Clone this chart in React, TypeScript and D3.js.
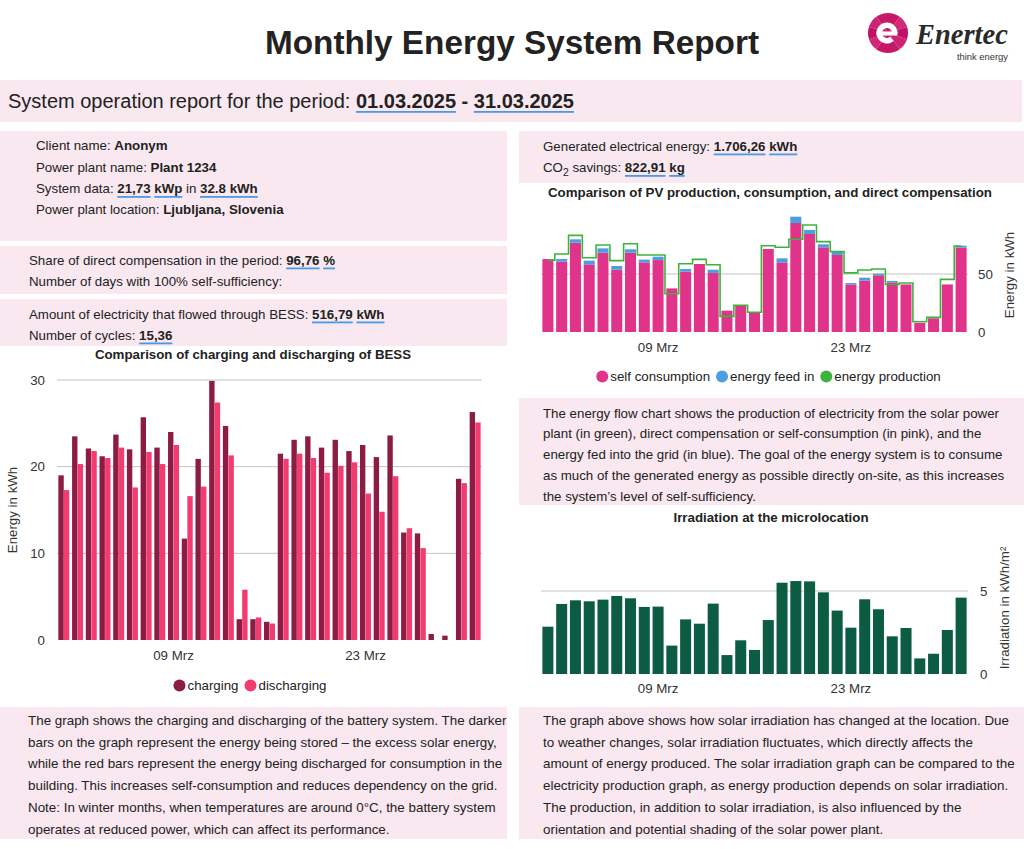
import React from 'react';
import * as d3 from 'd3';

const FONT = "'Liberation Sans', Arial, Helvetica, sans-serif";

// ---------- DATA ----------
const days = ["01","02","03","04","05","06","07","08","09","10","11","12","13","14","15","16","17","18","19","20","21","22","23","24","25","26","27","28","29","30","31"];
const xTickIdx = [8, 22];
const xTickLabels = ["09 Mrz", "23 Mrz"];

const selfConsumption = [62.9,60.6,77,58.3,68.4,53.7,68.4,60,62,37.6,52,58.6,50.9,18.4,22.4,16.4,71.6,60,94,84.5,73,66.4,41,44.3,48.9,42.8,41,7.8,11.8,41,72.7];
const feedIn = [0,2.3,2.9,3.2,3.7,3.2,2.9,2.4,2.9,0,2.3,0,2.8,0,0,0,0,3.5,5.4,3.5,2.6,2.9,1.2,2.5,1.4,1.2,0,0,0,0,1.7];
const production = [62,67.2,83.3,64,75,61.5,76.1,66.4,66.4,33,58.9,62.6,58,13.5,23,17,74.4,73,80,92.2,77.9,69.3,51,53.4,54.3,41,42.2,8.9,12.6,45.4,74];
const pvTicks = [0, 50];

const charging = [19.0,23.5,22.1,21.2,23.7,22.0,25.7,22.2,24.0,11.7,20.9,29.9,24.7,2.4,2.4,2.1,21.5,23.1,23.5,22.2,23.1,21.8,22.5,21.1,23.6,12.4,12.3,0.7,0.5,18.6,26.3];
const discharging = [17.3,20.3,21.8,21.0,22.2,17.6,21.7,20.3,22.5,16.6,17.7,27.4,21.3,5.8,2.6,1.9,20.9,21.5,21.0,19.3,20.1,20.5,16.9,14.8,18.9,12.9,10.6,0,0,18.1,25.1];
const bessTicks = [0, 10, 20, 30];

const irradiation = [2.85,4.22,4.44,4.38,4.48,4.70,4.56,4.04,4.06,1.71,3.29,3.03,4.24,1.14,2.03,1.45,3.25,5.50,5.60,5.58,4.92,3.82,2.79,4.50,3.90,2.27,2.77,0.94,1.22,2.65,4.60];
const irrTicks = [0, 5];

const pvLegend = ["self consumption", "energy feed in", "energy production"];
const bessLegend = ["charging", "discharging"];

const flowText = [
  "The energy flow chart shows the production of electricity from the solar power",
  "plant (in green), direct compensation or self-consumption (in pink), and the",
  "energy fed into the grid (in blue). The goal of the energy system is to consume",
  "as much of the generated energy as possible directly on-site, as this increases",
  "the system\u2019s level of self-sufficiency.",
];
const bessText = [
  "The graph shows the charging and discharging of the battery system. The darker",
  "bars on the graph represent the energy being stored \u2013 the excess solar energy,",
  "while the red bars represent the energy being discharged for consumption in the",
  "building. This increases self-consumption and reduces dependency on the grid.",
  "Note: In winter months, when temperatures are around 0\u00b0C, the battery system",
  "operates at reduced power, which can affect its performance.",
];
const irrText = [
  "The graph above shows how solar irradiation has changed at the location. Due",
  "to weather changes, solar irradiation fluctuates, which directly affects the",
  "amount of energy produced. The solar irradiation graph can be compared to the",
  "electricity production graph, as energy production depends on solar irradiation.",
  "The production, in addition to solar irradiation, is also influenced by the",
  "orientation and potential shading of the solar power plant.",
];

// ---------- COLORS ----------
const PINK_BG = '#f9e8ef';
const C_SELF = '#e0338a';
const C_FEED = '#4a9fe0';
const C_PROD = '#3cb43c';
const C_CH = '#8c1c44';
const C_DIS = '#f23c70';
const C_IRR = '#0c5c44';
const C_UL = '#4a9ae6';
const GRID = '#c4c4c4';
const TXT = '#222';
const FS = 13.3;

// ---------- helpers ----------
let _ctx: CanvasRenderingContext2D | null = null;
function measure(text: string, size: number, weight: string = 'normal', family: string = FONT) {
  if (!_ctx) _ctx = document.createElement('canvas').getContext('2d');
  if (!_ctx) return text.length * size * 0.5;
  _ctx.font = `${weight} ${size}px ${family}`;
  return _ctx.measureText(text).width;
}

type Part = { t: string; b?: boolean; u?: boolean; sub?: boolean };

function RichLine({ x, y, parts, size = FS }: { x: number; y: number; parts: Part[]; size?: number }) {
  let cx = x;
  const els: any[] = [];
  parts.forEach((p, i) => {
    const s = p.sub ? size * 0.78 : size;
    const w = measure(p.t, s, p.b ? 'bold' : 'normal');
    els.push(
      <text key={'t' + i} x={cx} y={p.sub ? y + 4 : y} fontSize={s} fontWeight={p.b ? 'bold' : 'normal'} fill={TXT} style={{ whiteSpace: 'pre' }}>
        {p.t}
      </text>
    );
    if (p.u) els.push(<rect key={'u' + i} x={cx} y={y + 3} width={w} height={1.8} fill={C_UL} />);
    cx += w;
  });
  return <g>{els}</g>;
}

function Legend({ cx, y, items, colors }: { cx: number; y: number; items: string[]; colors: string[] }) {
  const size = FS;
  const r = 6;
  const widths = items.map((t) => measure(t, size));
  const total = widths.reduce((a, w) => a + w + 2 * r + 2, 0) + (items.length - 1) * 6;
  let x = cx - total / 2;
  const els: any[] = [];
  items.forEach((t, i) => {
    els.push(<circle key={'c' + i} cx={x + r} cy={y - 4.5} r={r} fill={colors[i]} />);
    els.push(<text key={'t' + i} x={x + 2 * r + 2} y={y} fontSize={size} fill={TXT}>{t}</text>);
    x += 2 * r + 2 + widths[i] + 6;
  });
  return <g>{els}</g>;
}

function Logo() {
  const cx = 888, cy = 33, R = 20;
  const n = 10;
  const wedge = d3.arc<any>().innerRadius(0).outerRadius(R);
  const shades = ['#c8166b', '#d3277a', '#bf1263', '#cf2274', '#c41a6a'];
  const eArc = d3.arc<any>().innerRadius(5).outerRadius(10.5).startAngle(-Math.PI * 1.22).endAngle(Math.PI / 2);
  return (
    <g>
      {d3.range(n).map((i) => (
        <path key={i} transform={`translate(${cx},${cy})`}
          d={wedge({ startAngle: (i * 2 * Math.PI) / n, endAngle: ((i + 1) * 2 * Math.PI) / n }) as string}
          fill={shades[i % shades.length]} />
      ))}
      <g transform={`translate(${cx - 1},${cy})`}>
        <path d={eArc({}) as string} fill="#fff" />
        <rect x={-10.5} y={-1.5} width={21} height={4} fill="#fff" />
      </g>
      <text x={916} y={44} fontFamily="'Liberation Serif', 'DejaVu Serif', serif" fontStyle="italic" fontWeight="bold" fontSize={28.5} fill="#2a2a2a">Enertec</text>
      <text x={1008} y={59.5} textAnchor="end" fontSize={9.4} fill="#333">think energy</text>
    </g>
  );
}

function PVChart() {
  const idx = days.map((_, i) => i);
  const x = d3.scaleBand<number>().domain(idx).range([541, 968]).paddingInner(0.2).paddingOuter(0.1);
  const y = d3.scaleLinear().domain([0, 50]).range([332, 274]);
  const line = d3.line<number>().x((i) => (x(i) as number) + x.bandwidth() / 2).y((i) => y(production[i])).curve(d3.curveStep);
  return (
    <g>
      <text x={770} y={197} textAnchor="middle" fontSize={FS} fontWeight="bold" fill={TXT}>Comparison of PV production, consumption, and direct compensation</text>
      {pvTicks.filter((t) => t > 0).map((t) => (
        <line key={t} x1={541} x2={968} y1={y(t)} y2={y(t)} stroke={GRID} strokeWidth={1} />
      ))}
      {idx.map((i) => (
        <g key={i}>
          <rect x={x(i)} y={y(selfConsumption[i])} width={x.bandwidth()} height={y(0) - y(selfConsumption[i])} fill={C_SELF} />
          {feedIn[i] > 0 && (
            <rect x={x(i)} y={y(selfConsumption[i] + feedIn[i])} width={x.bandwidth()} height={y(selfConsumption[i]) - y(selfConsumption[i] + feedIn[i])} fill={C_FEED} />
          )}
        </g>
      ))}
      <path d={line(idx) as string} fill="none" stroke={C_PROD} strokeWidth={1.6} />
      {pvTicks.map((t) => (
        <text key={t} x={978} y={y(t) + 4.5} fontSize={FS} fill="#333">{t}</text>
      ))}
      <text transform={`translate(1014,275) rotate(-90)`} textAnchor="middle" fontSize={FS} fill="#333">Energy in kWh</text>
      {xTickIdx.map((i, k) => (
        <text key={k} x={(x(i) as number) + x.bandwidth() / 2} y={352} textAnchor="middle" fontSize={FS} fill="#333">{xTickLabels[k]}</text>
      ))}
      <Legend cx={768.5} y={381} items={pvLegend} colors={[C_SELF, C_FEED, C_PROD]} />
    </g>
  );
}

function BessChart() {
  const idx = days.map((_, i) => i);
  const x = d3.scaleBand<number>().domain(idx).range([57, 482]).paddingInner(0.2).paddingOuter(0.1);
  const sub = d3.scaleBand<number>().domain([0, 1]).range([0, x.bandwidth()]).paddingInner(0.04);
  const y = d3.scaleLinear().domain([0, 30]).range([640, 380]);
  return (
    <g>
      <text x={253} y={359} textAnchor="middle" fontSize={FS} fontWeight="bold" fill={TXT}>Comparison of charging and discharging of BESS</text>
      {bessTicks.filter((t) => t > 0).map((t) => (
        <line key={t} x1={57} x2={482} y1={y(t)} y2={y(t)} stroke={GRID} strokeWidth={1} />
      ))}
      {idx.map((i) => (
        <g key={i}>
          {charging[i] > 0 && <rect x={(x(i) as number) + (sub(0) as number)} y={y(charging[i])} width={sub.bandwidth()} height={y(0) - y(charging[i])} fill={C_CH} />}
          {discharging[i] > 0 && <rect x={(x(i) as number) + (sub(1) as number)} y={y(discharging[i])} width={sub.bandwidth()} height={y(0) - y(discharging[i])} fill={C_DIS} />}
        </g>
      ))}
      {bessTicks.map((t) => (
        <text key={t} x={45} y={y(t) + 4.5} textAnchor="end" fontSize={FS} fill="#333">{t}</text>
      ))}
      <text transform={`translate(17,510) rotate(-90)`} textAnchor="middle" fontSize={FS} fill="#333">Energy in kWh</text>
      {xTickIdx.map((i, k) => (
        <text key={k} x={(x(i) as number) + x.bandwidth() / 2} y={660} textAnchor="middle" fontSize={FS} fill="#333">{xTickLabels[k]}</text>
      ))}
      <Legend cx={250} y={690} items={bessLegend} colors={[C_CH, C_DIS]} />
    </g>
  );
}

function IrrChart() {
  const idx = days.map((_, i) => i);
  const x = d3.scaleBand<number>().domain(idx).range([541, 968]).paddingInner(0.2).paddingOuter(0.1);
  const y = d3.scaleLinear().domain([0, 5]).range([674, 591]);
  return (
    <g>
      <text x={771} y={522} textAnchor="middle" fontSize={FS} fontWeight="bold" fill={TXT}>Irradiation at the microlocation</text>
      {irrTicks.filter((t) => t > 0).map((t) => (
        <line key={t} x1={541} x2={968} y1={y(t)} y2={y(t)} stroke={GRID} strokeWidth={1} />
      ))}
      {idx.map((i) => (
        <rect key={i} x={x(i)} y={y(irradiation[i])} width={x.bandwidth()} height={y(0) - y(irradiation[i])} fill={C_IRR} />
      ))}
      {irrTicks.map((t) => (
        <text key={t} x={980} y={y(t) + 4.5} fontSize={FS} fill="#333">{t}</text>
      ))}
      <text transform={`translate(1009,608) rotate(-90)`} textAnchor="middle" fontSize={FS} fill="#333">Irradiation in kWh/m²</text>
      {xTickIdx.map((i, k) => (
        <text key={k} x={(x(i) as number) + x.bandwidth() / 2} y={693} textAnchor="middle" fontSize={FS} fill="#333">{xTickLabels[k]}</text>
      ))}
    </g>
  );
}

export default function App() {
  return (
    <svg width={1024} height={849} viewBox="0 0 1024 849" style={{ position: 'absolute', left: 0, top: 0, background: '#fff' }} fontFamily={FONT}>
      <rect x={0} y={0} width={1024} height={849} fill="#fff" />
      <text x={512} y={54} textAnchor="middle" fontSize={33.3} fontWeight="bold" fill="#222">Monthly Energy System Report</text>
      <Logo />

      {/* header box */}
      <rect x={0} y={80} width={1022} height={42} fill={PINK_BG} />
      <RichLine x={8} y={108} size={20} parts={[
        { t: 'System operation report for the period: ' },
        { t: '01.03.2025', b: true, u: true },
        { t: ' - ', b: true },
        { t: '31.03.2025', b: true, u: true },
      ]} />

      {/* left boxes */}
      <rect x={0} y={131} width={507} height={110} fill={PINK_BG} />
      <RichLine x={36} y={150} parts={[{ t: 'Client name: ' }, { t: 'Anonym', b: true }]} />
      <RichLine x={36} y={172} parts={[{ t: 'Power plant name: ' }, { t: 'Plant 1234', b: true }]} />
      <RichLine x={36} y={193} parts={[{ t: 'System data: ' }, { t: '21,73', b: true, u: true }, { t: ' ', b: true }, { t: 'kWp', b: true, u: true }, { t: ' in ' }, { t: '32.8 kWh', b: true, u: true }]} />
      <RichLine x={36} y={214} parts={[{ t: 'Power plant location: ' }, { t: 'Ljubljana, Slovenia', b: true }]} />

      <rect x={0} y={246} width={507} height={48} fill={PINK_BG} />
      <RichLine x={29} y={264.5} parts={[{ t: 'Share of direct compensation in the period: ' }, { t: '96,76', b: true, u: true }, { t: ' ', b: true }, { t: '%', b: true, u: true }]} />
      <RichLine x={29} y={285.5} parts={[{ t: 'Number of days with 100% self-sufficiency:' }]} />

      <rect x={0} y={299} width={507} height={47} fill={PINK_BG} />
      <RichLine x={29} y={318.5} parts={[{ t: 'Amount of electricity that flowed through BESS: ' }, { t: '516,79', b: true, u: true }, { t: ' ', b: true }, { t: 'kWh', b: true, u: true }]} />
      <RichLine x={29} y={339.5} parts={[{ t: 'Number of cycles: ' }, { t: '15,36', b: true, u: true }]} />

      {/* right top box */}
      <rect x={519} y={131} width={505} height={52} fill={PINK_BG} />
      <RichLine x={543} y={150.5} parts={[{ t: 'Generated electrical energy: ' }, { t: '1.706,26', b: true, u: true }, { t: ' ', b: true }, { t: 'kWh', b: true, u: true }]} />
      <RichLine x={543} y={172} parts={[{ t: 'CO' }, { t: '2', sub: true }, { t: ' savings: ' }, { t: '822,91', b: true, u: true }, { t: ' ', b: true }, { t: 'kg', b: true, u: true }]} />

      <PVChart />

      {/* flow text box */}
      <rect x={519} y={398} width={505} height={107} fill={PINK_BG} />
      {flowText.map((t, i) => (
        <text key={i} x={543} y={417.5 + i * 20.8} fontSize={FS} fill={TXT}>{t}</text>
      ))}

      <BessChart />
      <IrrChart />

      {/* bottom boxes */}
      <rect x={0} y={707} width={507} height={132} fill={PINK_BG} />
      {bessText.map((t, i) => (
        <text key={i} x={28} y={725 + i * 21.7} fontSize={13.4} fill={TXT}>{t}</text>
      ))}
      <rect x={519} y={707} width={505} height={132} fill={PINK_BG} />
      {irrText.map((t, i) => (
        <text key={i} x={543} y={725 + i * 21.7} fontSize={13.4} fill={TXT}>{t}</text>
      ))}
    </svg>
  );
}
